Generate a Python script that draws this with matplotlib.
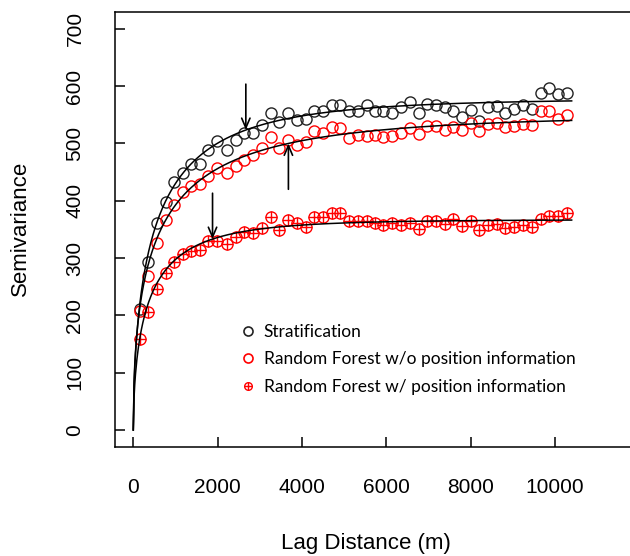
import matplotlib
matplotlib.use('Agg')
import matplotlib.pyplot as plt
from matplotlib.lines import Line2D
import numpy as np

plt.rcParams['font.family'] = ['Liberation Sans', 'DejaVu Sans']

# lag distances (m) of the empirical semivariogram bins
lag = [159, 357, 570, 776, 973, 1172, 1369, 1582, 1779, 1993,
       2216, 2429, 2626, 2832, 3046, 3259, 3464, 3678, 3876, 4090,
       4287, 4507, 4706, 4904, 5125, 5324, 5537, 5734, 5931, 6145,
       6351, 6565, 6778, 6976, 7182, 7396, 7594, 7808, 8004, 8209,
       8408, 8621, 8818, 9032, 9238, 9452, 9665, 9869, 10083, 10282]

strat = [212, 294, 361, 398, 433, 448, 464, 464, 489, 504,
         489, 506, 518, 519, 532, 553, 538, 553, 541, 542,
         556, 556, 567, 567, 557, 557, 567, 557, 557, 554,
         563, 572, 553, 569, 567, 563, 557, 546, 558, 540,
         564, 565, 554, 560, 568, 560, 588, 596, 586, 589]

rf_nopos = [208, 268, 326, 366, 393, 416, 426, 429, 443, 457,
            448, 461, 471, 480, 492, 511, 492, 506, 497, 503,
            522, 519, 529, 527, 509, 515, 513, 515, 512, 513,
            519, 527, 517, 531, 531, 524, 529, 524, 536, 522,
            534, 535, 528, 531, 534, 532, 556, 556, 542, 550]

rf_pos = [158, 206, 246, 274, 294, 307, 313, 314, 330, 330,
          324, 336, 345, 344, 353, 372, 349, 366, 362, 355,
          371, 371, 378, 378, 364, 365, 364, 362, 358, 362,
          358, 362, 350, 365, 365, 360, 369, 356, 364, 349,
          357, 360, 353, 355, 358, 355, 369, 373, 373, 379]

# fitted variogram models (sill, range, shape) - stable model
strat_fit = (578, 575, 0.56)
rf_nopos_fit = (550, 639, 0.50)
rf_pos_fit = (367, 409, 0.57)
fit_max_lag = 10400

# lag where arrows mark each curve, and arrow direction (+1 from above)
arrow_lag = [2670, 3680, 1880]
arrow_dir = [1, -1, 1]

labels = ['Stratification',
          'Random Forest w/o position information',
          'Random Forest w/ position information']


def stable(h, p):
    c, a, s = p
    return c * (1 - np.exp(-(h / a) ** s))


fig = plt.figure(figsize=(6.3, 5.56), dpi=100)
ax = fig.add_axes([115 / 630, 1 - 447 / 556, 1 - 115 / 630, 435 / 556])

ms = 8
ax.plot(lag, strat, 'o', mfc='none', mec='#222222', ms=ms, mew=1.0, zorder=2)
ax.plot(lag, rf_nopos, 'o', mfc='none', mec='red', ms=ms, mew=1.0, zorder=2)
ax.plot(lag, rf_pos, 'o', mfc='none', mec='red', ms=ms, mew=1.0, zorder=2)
ax.plot(lag, rf_pos, '+', color='red', ms=ms, mew=1.0, zorder=2)

hh = np.linspace(0, fit_max_lag, 600)
fits = [strat_fit, rf_nopos_fit, rf_pos_fit]
for p in fits:
    ax.plot(hh, stable(hh, p), color='black', lw=1.1, zorder=3)

for h, d, p in zip(arrow_lag, arrow_dir, fits):
    tip = stable(h, p)
    ax.annotate('', xy=(h, tip), xytext=(h, tip + 80 * d),
                arrowprops=dict(arrowstyle='->,head_length=0.7,head_width=0.3',
                                lw=1.2, color='black', shrinkA=0, shrinkB=0,
                                mutation_scale=10), zorder=4)

ax.set_xlim(-434, 11784)
ax.set_ylim(-29.7, 729.5)
ax.set_xticks([0, 2000, 4000, 6000, 8000, 10000])
ax.set_yticks([0, 100, 200, 300, 400, 500, 600, 700])
ax.tick_params(direction='in', length=7.5, width=1.1, labelsize=15, pad=22)
for t in ax.get_yticklabels():
    t.set_rotation(90)
    t.set_va('center')
for s in ['left', 'top', 'bottom']:
    ax.spines[s].set_linewidth(1.1)
ax.spines['right'].set_visible(False)

ax.set_xlabel('Lag Distance (m)', fontsize=16, va='center')
ax.xaxis.set_label_coords((366 - 115) / 515, (447 - 543) / 435)
ax.set_ylabel('Semivariance', fontsize=16, va='center')
ax.yaxis.set_label_coords((20 - 115) / 515, (447 - 228) / 435)

h1 = Line2D([], [], ls='none', marker='o', mfc='none', mec='#222222', ms=6.5, mew=1.2)
h2 = Line2D([], [], ls='none', marker='o', mfc='none', mec='red', ms=6.5, mew=1.2)
h3a = Line2D([], [], ls='none', marker='o', mfc='none', mec='red', ms=5.5, mew=1.0)
h3b = Line2D([], [], ls='none', marker='+', color='red', ms=5.5, mew=1.0)
ax.legend([h1, h2, (h3a, h3b)], labels, loc='upper left',
          bbox_to_anchor=(241 / 630, 1 - 324 / 556), bbox_transform=fig.transFigure,
          frameon=False, handlelength=0.8, handletextpad=0.5, labelspacing=0.66,
          borderpad=0, borderaxespad=0, prop={'family': 'Lato', 'size': 12.5})

plt.savefig('out.png', dpi=100)
